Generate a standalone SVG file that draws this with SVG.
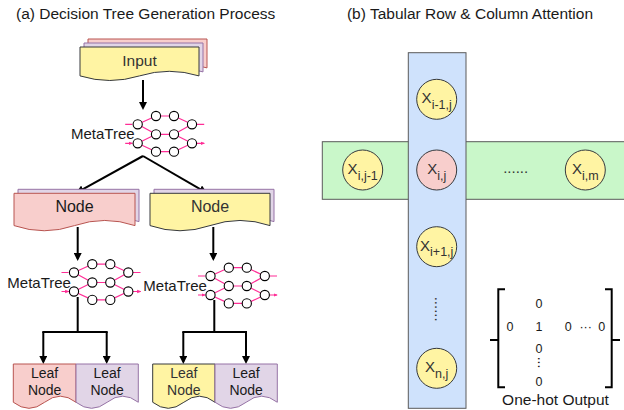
<svg xmlns="http://www.w3.org/2000/svg" xmlns:xlink="http://www.w3.org/1999/xlink" width="624" height="410" viewBox="0 0 624 410">
<style>
text{font-family:"Liberation Sans",Arial,sans-serif;fill:#1a1a1a}
.title{font-size:15.5px}
.lbl{font-size:15px}
.node{font-size:16px}
.leaf{font-size:14px;text-anchor:middle}
.yel{fill:#fff4a3;stroke:#36393d;stroke-width:1}
.pnk{fill:#f8cecc;stroke:#b85450;stroke-width:1}
.pur{fill:#e1d5e7;stroke:#9673a6;stroke-width:1}
.conn{fill:none;stroke:#000;stroke-width:2;marker-end:url(#ah)}
.line{fill:none;stroke:#000;stroke-width:2}
.nn{fill:#fff;stroke:#000;stroke-width:1.1}
.ne{fill:none;stroke:#ff2d96;stroke-width:1.2}
.na{fill:none;stroke:#ff2d96;stroke-width:1.2;marker-end:url(#pah)}
.cell{stroke:#36393d;stroke-width:1}
.ct{font-size:15px;fill:#333;text-anchor:middle}
.sub{font-size:12.5px}
.mx{font-size:12.5px;text-anchor:middle}
.br{fill:none;stroke:#000;stroke-width:2}
</style>
<defs>
<marker id="ah" viewBox="0 0 10 10" refX="7" refY="5" markerWidth="4" markerHeight="4" orient="auto" markerUnits="strokeWidth">
<path d="M0,0 L10,5 L0,10 z" fill="#000"/>
</marker>
<marker id="pah" viewBox="0 0 10 10" refX="8" refY="5" markerWidth="3.5" markerHeight="3.5" orient="auto" markerUnits="strokeWidth">
<path d="M0,1 L10,5 L0,9 z" fill="#ff2d96"/>
</marker>
<g id="net">
<path class="na" d="M-12.5,0 H-5.5 M-12.5,19 H-5.5"/>
<path class="ne" d="M0,0 L18.3,-8.3 M0,0 L18.3,10 M0,19 L18.3,10 M0,19 L18.3,27.4 M18.3,-8.3 H36.3 M18.3,10 H36.3 M18.3,27.4 H36.3 M36.3,-8.3 L54.3,0 M36.3,10 L54.3,0 M36.3,10 L54.3,19 M36.3,27.4 L54.3,19"/>
<path class="na" d="M58.9,0 H66.5 M58.9,19 H66.5"/>
<circle class="nn" cx="0" cy="0" r="4.6"/>
<circle class="nn" cx="0" cy="19" r="4.6"/>
<circle class="nn" cx="18.3" cy="-8.3" r="4.6"/>
<circle class="nn" cx="18.3" cy="10" r="4.6"/>
<circle class="nn" cx="18.3" cy="27.4" r="4.6"/>
<circle class="nn" cx="36.3" cy="-8.3" r="4.6"/>
<circle class="nn" cx="36.3" cy="10" r="4.6"/>
<circle class="nn" cx="36.3" cy="27.4" r="4.6"/>
<circle class="nn" cx="54.3" cy="0" r="4.6"/>
<circle class="nn" cx="54.3" cy="19" r="4.6"/>
</g>
</defs>
<rect width="624" height="410" fill="#fff"/>

<text class="title" x="16" y="19">(a) Decision Tree Generation Process</text>
<text class="title" x="470" y="19" text-anchor="middle">(b) Tabular Row &amp; Column Attention</text>

<g id="connectors">
<path class="conn" d="M143,80 V107.6"/>
<path class="conn" d="M143,156 L78.1,191.8"/>
<path class="conn" d="M143,156 L204.9,191.8"/>
<path class="conn" d="M77.7,227 V258.6"/>
<path class="conn" d="M213.3,227 V258.6"/>
<path class="line" d="M77.7,297 V332 M42.3,332 H107.7"/>
<path class="conn" d="M43.3,332 V361.6"/>
<path class="conn" d="M106.7,332 V361.6"/>
<path class="line" d="M214.3,300 V332 M182.3,332 H247"/>
<path class="conn" d="M183.3,332 V361.6"/>
<path class="conn" d="M246,332 V361.6"/>
</g>

<g id="input">
<path class="pnk" d="M88,39 H207 V67.9 Q177.25,58.7 147.5,67.9 Q117.75,77.1 88,67.9 Z"/>
<path class="pur" d="M84,43 H203 V71.9 Q173.25,62.7 143.5,71.9 Q113.75,81.1 84,71.9 Z"/>
<path class="yel" d="M80,47 H199 V75.9 Q169.25,66.7 139.5,75.9 Q109.75,85.1 80,75.9 Z"/>
<text class="lbl" x="139.5" y="66" text-anchor="middle" style="font-size:15.5px;fill:#333">Input</text>
</g>

<g id="metatree1">
<use xlink:href="#net" href="#net" transform="translate(137.7,124.3)"/>
<text class="lbl" x="71" y="139">MetaTree</text>
</g>

<g id="node-left">
<path class="pur" d="M18,189.3 H139 V221.6 Q108.75,211.3 78.5,221.6 Q48.25,231.9 18,221.6 Z"/>
<path class="pnk" d="M14,193.3 H135 V225.6 Q104.75,215.3 74.5,225.6 Q44.25,235.9 14,225.6 Z"/>
<text class="node" x="74.5" y="212" text-anchor="middle">Node</text>
</g>

<g id="node-right">
<path class="pur" d="M154,189.3 H274 V221.6 Q244,211.3 214,221.6 Q184,231.9 154,221.6 Z"/>
<path class="yel" d="M150,193.3 H270 V225.6 Q240,215.3 210,225.6 Q180,235.9 150,225.6 Z"/>
<text class="node" x="210" y="212" text-anchor="middle" style="fill:#333">Node</text>
</g>

<g id="metatree2">
<use xlink:href="#net" href="#net" transform="translate(74,272.5)"/>
<text class="lbl" x="7.3" y="287.5">MetaTree</text>
</g>

<g id="metatree3">
<use xlink:href="#net" href="#net" transform="translate(210.5,276)"/>
<text class="lbl" x="143.3" y="291">MetaTree</text>
</g>

<g id="leaf1">
<path class="pnk" d="M13.3,364 H76 V402.25 Q60.3,390.1 44.65,402.25 Q29,414.4 13.3,402.25 Z"/>
<text class="leaf" x="44.65" y="377.5">Leaf</text>
<text class="leaf" x="44.65" y="394.5">Node</text>
</g>
<g id="leaf2">
<path class="pur" d="M76,364 H138.3 V402.25 Q122.7,390.1 107.15,402.25 Q91.6,414.4 76,402.25 Z"/>
<text class="leaf" x="107.15" y="377.5">Leaf</text>
<text class="leaf" x="107.15" y="394.5">Node</text>
</g>
<g id="leaf3">
<path class="yel" d="M152.7,364 H215 V402.25 Q199.4,390.1 183.85,402.25 Q168.3,414.4 152.7,402.25 Z"/>
<text class="leaf" x="183.85" y="377.5" style="fill:#333">Leaf</text>
<text class="leaf" x="183.85" y="394.5" style="fill:#333">Node</text>
</g>
<g id="leaf4">
<path class="pur" d="M215,364 H277.3 V402.25 Q261.7,390.1 246.15,402.25 Q230.6,414.4 215,402.25 Z"/>
<text class="leaf" x="246.15" y="377.5">Leaf</text>
<text class="leaf" x="246.15" y="394.5">Node</text>
</g>

<g id="row">
<rect x="322.3" y="141.7" width="320" height="57.6" fill="#c9f7c9" stroke="#5a5a5a" stroke-width="1"/>
</g>
<g id="column">
<rect x="408.3" y="52.7" width="57.7" height="355.6" fill="#cfe2fc" stroke="#5a5a5a" stroke-width="1"/>
</g>

<g id="x-im1-j">
<circle class="cell" cx="436.7" cy="99.3" r="20" fill="#fff4a3"/>
<text class="ct" x="436.7" y="103.3">X<tspan class="sub" dy="5.5">i-1,j</tspan></text>
</g>
<g id="x-i-j">
<circle class="cell" cx="436.7" cy="170" r="20" fill="#f8cecc"/>
<text class="ct" x="436.7" y="174">X<tspan class="sub" dy="5.5">i,j</tspan></text>
</g>
<g id="x-i-jm1">
<circle class="cell" cx="362.7" cy="170" r="20" fill="#fff4a3"/>
<text class="ct" x="362.7" y="174">X<tspan class="sub" dy="5.5">i,j-1</tspan></text>
</g>
<g id="x-i-m">
<circle class="cell" cx="585.3" cy="170" r="20" fill="#fff4a3"/>
<text class="ct" x="585.3" y="174">X<tspan class="sub" dy="5.5">i,m</tspan></text>
</g>
<g id="x-ip1-j">
<circle class="cell" cx="436.7" cy="246.7" r="20" fill="#fff4a3"/>
<text class="ct" x="436.7" y="250.7">X<tspan class="sub" dy="5.5">i+1,j</tspan></text>
</g>
<g id="x-n-j">
<circle class="cell" cx="436.7" cy="368.3" r="20" fill="#fff4a3"/>
<text class="ct" x="436.7" y="372.3">X<tspan class="sub" dy="5.5">n,j</tspan></text>
</g>

<text class="lbl" x="515.7" y="172.5" text-anchor="middle" style="fill:#333">......</text>
<text class="lbl" transform="translate(435,309.2) rotate(90)" text-anchor="middle" style="fill:#333">......</text>

<g id="onehot">
<path class="br" d="M505,289.3 H498.3 V387.3 H505 M490,340 H498.3"/>
<path class="br" d="M605,289.3 H611.7 V387.3 H605 M620,340 H611.7"/>
<text class="mx" x="539" y="308.3">0</text>
<text class="mx" x="510" y="330.7">0</text>
<text class="mx" x="539" y="330.7">1</text>
<text class="mx" x="568.3" y="330.7">0</text>
<text class="mx" x="585.7" y="330.7">···</text>
<text class="mx" x="601.7" y="330.7">0</text>
<text class="mx" x="539" y="353.3">0</text>
<text class="mx" transform="translate(538.3,362.5) rotate(90)" style="font-size:14px">...</text>
<text class="mx" x="539" y="385.7">0</text>
<text x="555.5" y="405" text-anchor="middle" style="font-size:15.5px">One-hot Output</text>
</g>
</svg>
